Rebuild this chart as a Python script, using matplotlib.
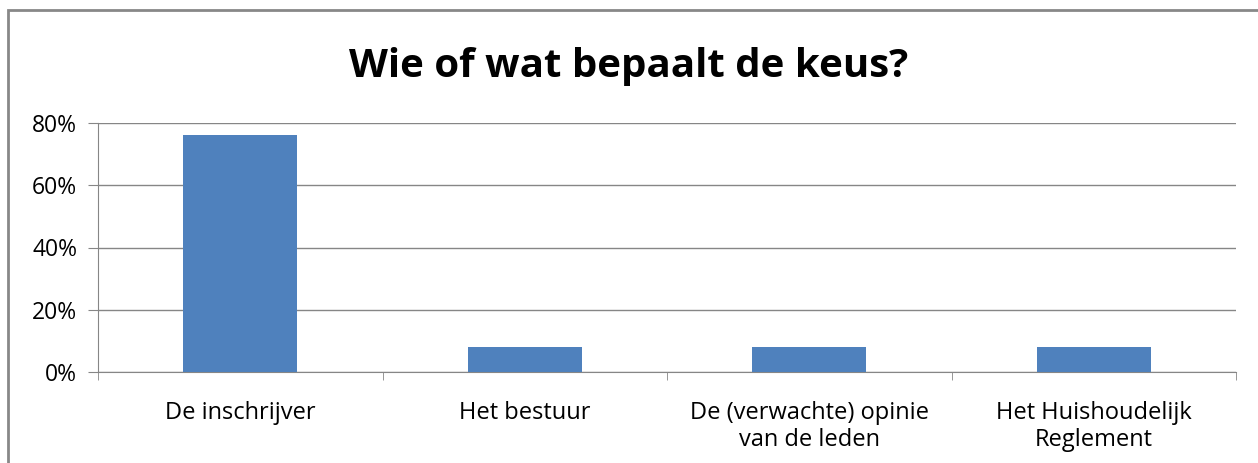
import matplotlib.pyplot as plt
from matplotlib.patches import Rectangle
from matplotlib.ticker import FixedLocator, PercentFormatter

categories = ['De inschrijver', 'Het bestuur', 'De (verwachte) opinie\nvan de leden', 'Het Huishoudelijk\nReglement']
values = [76, 8, 8, 8]
title = 'Wie of wat bepaalt de keus?'

plt.rcParams['font.family'] = ['Open Sans', 'DejaVu Sans']

W, H = 1258, 463
fig = plt.figure(figsize=(W / 100, H / 100), dpi=100)
ax = fig.add_axes([98 / W, 1 - 372 / H, (1236 - 98) / W, (372 - 123) / H])

x = list(range(len(categories)))
ax.bar(x, values, width=0.4, color='#4f81bd', zorder=3)

ax.set_xlim(-0.5, len(categories) - 0.5)
ax.set_ylim(0, 80)
ax.set_yticks([0, 20, 40, 60, 80])
ax.yaxis.set_major_formatter(PercentFormatter(decimals=0))
ax.yaxis.grid(True, color='#868686', linewidth=1, zorder=0)

ax.set_xticks(x)
ax.set_xticklabels(categories, fontsize=17, linespacing=1.15)
ax.xaxis.set_minor_locator(FixedLocator([i - 0.5 for i in range(len(categories) + 1)]))
ax.tick_params(axis='x', which='major', length=0, pad=21)
ax.tick_params(axis='x', which='minor', length=6, color='#868686')
ax.tick_params(axis='y', length=7, color='#868686', labelsize=16.5, pad=8)

for side in ['top', 'right']:
    ax.spines[side].set_visible(False)
for side in ['left', 'bottom']:
    ax.spines[side].set_color('#868686')

fig.text(0.5, 1 - 67 / H, title, ha='center', va='center', fontsize=29, fontweight='bold')

# chart area border
fig.patches.append(Rectangle((8 / W, -0.1), 1.2, 1 - 10 / H + 0.1, transform=fig.transFigure,
                             fill=False, edgecolor='#888888', linewidth=2))

fig.savefig('out.png', dpi=100)
